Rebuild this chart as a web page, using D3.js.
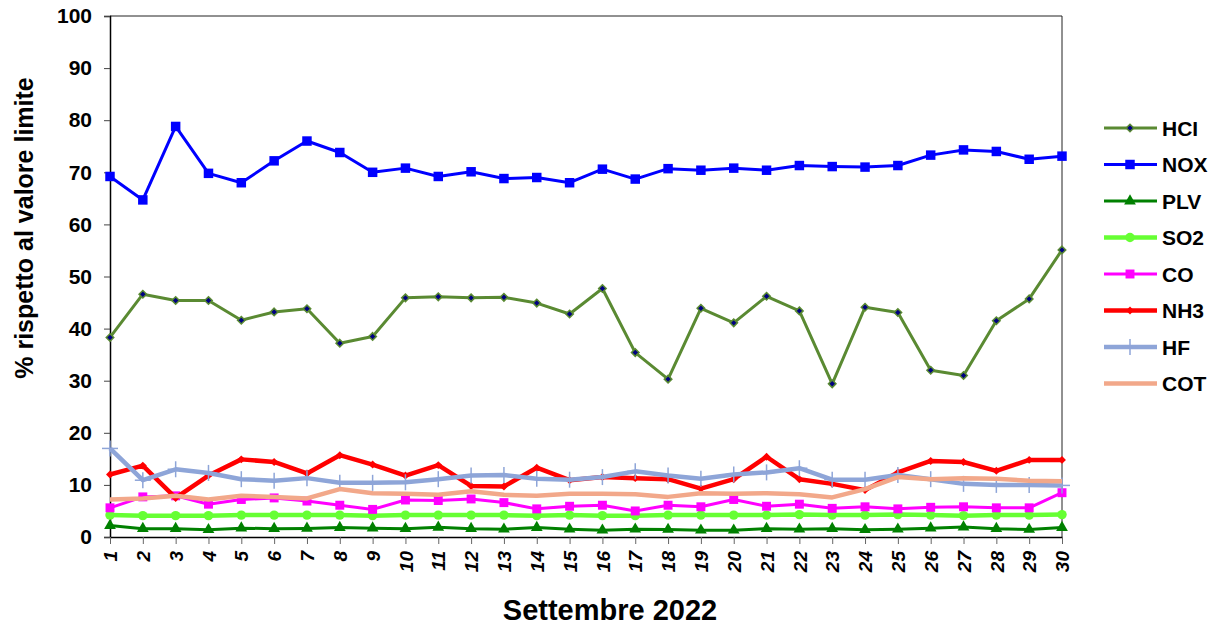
<!DOCTYPE html>
<html>
<head>
<meta charset="utf-8">
<script src="https://cdn.jsdelivr.net/npm/d3@7"></script>
<style>
  body { margin: 0; background: #fff; }
  text { font-family: "Liberation Sans", Arial, sans-serif; font-weight: bold; fill: #000; }
</style>
</head>
<body>
<div id="chart"></div>
<script>
// values (% of limit value), September 2022

var days = d3.range(1, 31);
var yTicks = [0, 10, 20, 30, 40, 50, 60, 70, 80, 90, 100];

var HCl = [38.3, 46.6, 45.4, 45.4, 41.6, 43.2, 43.8, 37.2, 38.5, 45.9, 46.1, 45.9, 46.0, 44.9, 42.8,
           47.7, 35.4, 30.3, 43.9, 41.1, 46.2, 43.4, 29.4, 44.1, 43.1, 32.0, 31.0, 41.5, 45.7, 55.1];
var NOX = [69.2, 64.7, 78.8, 69.8, 68.0, 72.2, 76.0, 73.8, 70.0, 70.8, 69.2, 70.1, 68.8, 69.0, 68.0,
           70.6, 68.7, 70.7, 70.4, 70.8, 70.4, 71.3, 71.1, 71.0, 71.3, 73.3, 74.3, 74.0, 72.5, 73.1];
var PLV = [2.2, 1.6, 1.6, 1.4, 1.7, 1.6, 1.65, 1.8, 1.7, 1.6, 1.85, 1.6, 1.5, 1.8, 1.5,
           1.3, 1.5, 1.45, 1.3, 1.3, 1.6, 1.5, 1.6, 1.4, 1.5, 1.7, 1.9, 1.6, 1.45, 1.8];
var SO2 = [4.2, 4.1, 4.1, 4.1, 4.2, 4.2, 4.2, 4.2, 4.1, 4.2, 4.2, 4.2, 4.2, 4.1, 4.2,
           4.1, 4.1, 4.2, 4.2, 4.2, 4.2, 4.3, 4.2, 4.2, 4.3, 4.2, 4.1, 4.2, 4.2, 4.3];
var CO  = [5.6, 7.7, 7.9, 6.3, 7.2, 7.5, 6.9, 6.1, 5.3, 7.1, 7.0, 7.3, 6.6, 5.4, 5.9,
           6.1, 5.0, 6.1, 5.8, 7.2, 5.9, 6.3, 5.5, 5.8, 5.4, 5.7, 5.8, 5.6, 5.6, 8.5];
var NH3 = [12.0, 13.7, 7.5, 11.8, 14.9, 14.4, 12.2, 15.7, 13.9, 11.8, 13.8, 9.8, 9.7, 13.3, 10.9,
           11.5, 11.3, 11.1, 9.3, 11.1, 15.4, 11.1, 10.2, 9.0, 12.4, 14.6, 14.4, 12.7, 14.8, 14.8];
var HF  = [17.0, 10.9, 13.0, 12.3, 11.1, 10.8, 11.3, 10.4, 10.4, 10.5, 11.1, 11.8, 11.9, 11.2, 11.0,
           11.5, 12.6, 11.8, 11.2, 12.0, 12.4, 13.2, 11.0, 11.0, 11.9, 11.1, 10.2, 10.0, 10.0, 9.9];
var COT = [7.2, 7.4, 7.9, 7.2, 7.9, 7.7, 7.4, 9.2, 8.4, 8.3, 8.1, 8.8, 8.1, 7.9, 8.3,
           8.3, 8.2, 7.7, 8.4, 8.3, 8.4, 8.2, 7.6, 9.2, 11.5, 11.1, 11.3, 11.2, 10.8, 10.7];

var series = [
  {name: "HCl", label: "HCI", values: HCl, color: "#5a8a32", width: 3,   marker: "diamond", fill: "#000080", size: 36},
  {name: "NOX", label: "NOX", values: NOX, color: "#0000ff", width: 3,   marker: "square",  fill: "#0000ff", size: 90},
  {name: "PLV", label: "PLV", values: PLV, color: "#008000", width: 3,   marker: "triangle",fill: "#008000", size: 60},
  {name: "SO2", label: "SO2", values: SO2, color: "#66ff33", width: 4.5, marker: "circle",  fill: "#66ff33", size: 70},
  {name: "CO",  label: "CO",  values: CO,  color: "#ff00ff", width: 3,   marker: "square",  fill: "#ff00ff", size: 80},
  {name: "NH3", label: "NH3", values: NH3, color: "#ff0000", width: 4.5, marker: "diamond", fill: "#ff0000", size: 40},
  {name: "HF",  label: "HF",  values: HF,  color: "#8ea5d8", width: 4.5, marker: "plus",    fill: "#8ea5d8", size: 0},
  {name: "COT", label: "COT", values: COT, color: "#f2a88a", width: 4.5, marker: "none",    fill: "none",    size: 0}
];

var W = 1218, H = 627;
var plot = {left: 110, right: 1062, top: 16, bottom: 537};

var svg = d3.select("#chart").append("svg")
    .attr("width", W)
    .attr("height", H);

var x = d3.scaleLinear().domain([1, 30]).range([plot.left, plot.right]);
var y = d3.scaleLinear().domain([0, 100]).range([plot.bottom, plot.top]);

// top and right frame
svg.append("line")
    .attr("x1", plot.left).attr("x2", plot.right)
    .attr("y1", plot.top).attr("y2", plot.top)
    .attr("stroke", "#222").attr("stroke-width", 1);
svg.append("line")
    .attr("x1", plot.right).attr("x2", plot.right)
    .attr("y1", plot.top).attr("y2", plot.bottom)
    .attr("stroke", "#222").attr("stroke-width", 1);

// y axis
var yAxis = svg.append("g")
    .attr("transform", "translate(" + plot.left + ",0)")
    .call(d3.axisLeft(y).tickValues(yTicks).tickSize(6).tickPadding(12).tickFormat(d3.format("d")));
yAxis.select(".domain").attr("stroke", "#000").attr("stroke-width", 1.5);
yAxis.selectAll(".tick line").attr("stroke", "#444");
yAxis.selectAll(".tick text")
    .style("font-size", "21px")
    .style("font-family", "'Liberation Sans', Arial, sans-serif")
    .style("font-weight", "bold")
    .attr("fill", "#000");

// x axis
var xAxis = svg.append("g")
    .attr("transform", "translate(0," + plot.bottom + ")")
    .call(d3.axisBottom(x).tickValues(days).tickSize(7).tickSizeOuter(0).tickFormat(d3.format("d")));
xAxis.select(".domain").attr("stroke", "#000").attr("stroke-width", 1.5);
xAxis.selectAll(".tick line").attr("stroke", "#666");
xAxis.selectAll(".tick text")
    .attr("transform", "rotate(-90)")
    .attr("text-anchor", "end")
    .attr("x", -14)
    .attr("y", 0)
    .attr("dy", "0.35em")
    .style("font-size", "19px")
    .style("font-style", "italic")
    .style("font-family", "'Liberation Sans', Arial, sans-serif")
    .style("font-weight", "bold")
    .attr("fill", "#000");

// axis titles
svg.append("text")
    .attr("transform", "translate(33,228) rotate(-90)")
    .attr("text-anchor", "middle")
    .style("font-size", "25px")
    .text("% rispetto al valore limite");

svg.append("text")
    .attr("x", 610)
    .attr("y", 620)
    .attr("text-anchor", "middle")
    .style("font-size", "29px")
    .text("Settembre 2022");

function symbolFor(s) {
  if (s.marker == "diamond") return d3.symbol().type(d3.symbolDiamond2).size(s.size)();
  if (s.marker == "square") return d3.symbol().type(d3.symbolSquare).size(s.size)();
  if (s.marker == "triangle") return d3.symbol().type(d3.symbolTriangle).size(s.size)();
  if (s.marker == "circle") return d3.symbol().type(d3.symbolCircle).size(s.size)();
  return null;
}

function drawMarker(g, s, cx, cy) {
  if (s.marker == "none") return;
  if (s.marker == "plus") {
    g.append("line")
        .attr("x1", cx).attr("x2", cx).attr("y1", cy - 8).attr("y2", cy + 8)
        .attr("stroke", s.color).attr("stroke-width", 1.5);
    g.append("line")
        .attr("x1", cx - 8).attr("x2", cx + 8).attr("y1", cy).attr("y2", cy)
        .attr("stroke", s.color).attr("stroke-width", 1.5);
    return;
  }
  var p = g.append("path")
      .attr("d", symbolFor(s))
      .attr("transform", "translate(" + cx + "," + cy + ")")
      .attr("fill", s.fill);
  if (s.name == "HCl") p.attr("stroke", s.color).attr("stroke-width", 1.5);
}

var line = d3.line()
    .x(function(d, i) { return x(days[i]); })
    .y(function(d) { return y(d); });

series.forEach(function(s) {
  var g = svg.append("g").attr("class", "series");
  g.append("path")
      .attr("d", line(s.values))
      .attr("fill", "none")
      .attr("stroke", s.color)
      .attr("stroke-width", s.width)
      .attr("stroke-linejoin", "round");
  s.values.forEach(function(v, i) {
    drawMarker(g, s, x(days[i]), y(v));
  });
});

// legend
var legend = svg.append("g");
series.forEach(function(s, i) {
  var ly = 128 + i * 36.5;
  var lg = legend.append("g");
  lg.append("line")
      .attr("x1", 1104).attr("x2", 1157)
      .attr("y1", ly).attr("y2", ly)
      .attr("stroke", s.color)
      .attr("stroke-width", s.width);
  drawMarker(lg, s, 1130, ly);
  lg.append("text")
      .attr("x", 1162)
      .attr("y", ly)
      .attr("dy", "0.36em")
      .style("font-size", "21px")
      .text(s.label);
});
</script>
</body>
</html>
